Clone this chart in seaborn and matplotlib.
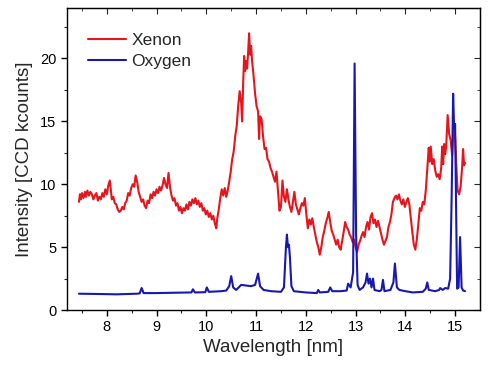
import pandas as pd
import seaborn as sns
import matplotlib.pyplot as plt

# Xenon spectrum (wavelength nm, kcounts)
xenon_x = [7.44, 7.46, 7.48, 7.50, 7.53, 7.56, 7.58, 7.61, 7.64, 7.67, 7.70, 7.73, 7.76, 7.79, 7.82,
           7.85, 7.88, 7.91, 7.94, 7.97, 8.00, 8.03, 8.06, 8.08, 8.10, 8.13, 8.16, 8.19, 8.22, 8.25,
           8.28, 8.31, 8.34, 8.37, 8.40, 8.43, 8.46, 8.49, 8.52, 8.55, 8.58, 8.61, 8.64, 8.67, 8.70,
           8.73, 8.76, 8.79, 8.82, 8.85, 8.88, 8.91, 8.94, 8.97, 9.00, 9.03, 9.06, 9.09, 9.12, 9.15,
           9.18, 9.21, 9.24, 9.27, 9.30, 9.33, 9.36, 9.39, 9.42, 9.45, 9.48, 9.51, 9.54, 9.57, 9.60,
           9.63, 9.66, 9.69, 9.72, 9.75, 9.78, 9.81, 9.84, 9.87, 9.90, 9.93, 9.96, 9.99, 10.02, 10.05,
           10.08, 10.11, 10.14, 10.17, 10.20, 10.22, 10.25, 10.28, 10.31, 10.34, 10.37, 10.40, 10.43,
           10.46, 10.49, 10.52, 10.55, 10.58, 10.61, 10.64, 10.67, 10.70, 10.72, 10.74, 10.76, 10.78,
           10.80, 10.82, 10.84, 10.86, 10.88, 10.90, 10.92, 10.95, 10.98, 11.01, 11.04, 11.06, 11.08,
           11.11, 11.14, 11.17, 11.20, 11.23, 11.26, 11.29, 11.32, 11.35, 11.38, 11.41, 11.44, 11.47,
           11.50, 11.53, 11.56, 11.59, 11.62, 11.65, 11.68, 11.71, 11.74, 11.77, 11.80, 11.83, 11.86,
           11.89, 11.92, 11.95, 11.98, 12.01, 12.04, 12.07, 12.10, 12.13, 12.16, 12.19, 12.22, 12.25,
           12.28, 12.31, 12.34, 12.37, 12.40, 12.43, 12.46, 12.49, 12.52, 12.55, 12.58, 12.61, 12.64,
           12.67, 12.70, 12.73, 12.76, 12.79, 12.82, 12.85, 12.88, 12.91, 12.94, 12.97, 13.00, 13.03,
           13.06, 13.09, 13.12, 13.15, 13.18, 13.21, 13.24, 13.27, 13.30, 13.33, 13.36, 13.39, 13.42,
           13.45, 13.48, 13.51, 13.54, 13.57, 13.60, 13.63, 13.66, 13.69, 13.72, 13.75, 13.78, 13.81,
           13.84, 13.87, 13.90, 13.93, 13.96, 13.99, 14.02, 14.05, 14.08, 14.11, 14.14, 14.17, 14.20,
           14.23, 14.26, 14.29, 14.32, 14.35, 14.38, 14.41, 14.44, 14.47, 14.49, 14.51, 14.54, 14.57,
           14.60, 14.63, 14.66, 14.69, 14.72, 14.74, 14.76, 14.78, 14.80, 14.82, 14.85, 14.88, 14.91,
           14.94, 14.97, 15.00, 15.03, 15.05, 15.08, 15.11, 15.14, 15.16, 15.18, 15.20]
xenon_y = [8.6, 9.2, 8.8, 9.3, 8.9, 9.4, 9.0, 9.5, 9.1, 9.4, 9.2, 8.8, 9.1, 9.3, 8.7,
           9.0, 8.8, 9.3, 9.0, 9.6, 9.2, 9.9, 10.3, 9.6, 8.8, 9.0, 8.5, 8.4, 8.0, 7.8,
           7.9, 8.2, 8.0, 8.5, 8.7, 9.3, 9.1, 9.7, 10.0, 9.8, 10.7, 10.2, 9.4, 9.0, 8.6,
           8.8, 8.3, 8.1, 8.7, 8.5, 9.2, 8.9, 9.4, 9.1, 9.6, 9.3, 9.8, 9.5, 9.9, 10.5,
           10.0, 9.7, 10.9, 9.8, 9.1, 8.7, 8.9, 8.3, 8.5, 7.9, 8.2, 7.7, 8.1, 7.9, 8.4,
           8.0, 8.6, 8.3, 8.8, 8.5, 8.9, 8.4, 8.7, 8.2, 8.5, 7.9, 8.1, 7.6, 7.9, 7.4,
           7.7, 7.2, 7.5, 6.9, 6.5, 7.3, 8.0, 8.9, 9.6, 9.1, 9.7, 9.0, 9.5,
           10.2, 11.0, 12.0, 12.6, 13.8, 14.6, 16.2, 17.4, 16.5, 15.0, 18.0, 20.2, 19.0,
           19.8, 19.2, 20.5, 22.0, 20.3, 21.0, 19.8, 18.6, 17.2, 16.2, 15.8, 13.6, 15.4,
           15.2, 13.8, 12.8, 12.9, 12.0, 11.8, 11.3, 11.0, 10.6, 10.2, 11.0, 9.4, 7.9,
           8.2, 10.3, 9.0, 8.6, 9.6, 8.8, 8.2, 7.8, 8.6, 9.4, 8.4, 8.0, 7.6,
           8.1, 8.5, 8.3, 8.9, 7.6, 6.5, 7.2, 6.8, 7.3, 6.6, 6.0, 5.4, 5.0,
           4.4, 5.0, 5.8, 6.3, 6.9, 7.3, 7.8, 7.0, 6.3, 6.0, 5.6, 5.2, 5.6,
           5.0, 4.8, 5.5, 6.2, 7.0, 6.6, 6.4, 6.0, 5.8, 5.4, 5.6, 5.0, 4.6,
           5.2, 5.5, 5.9, 6.2, 5.8, 6.6, 7.0, 6.4, 7.4, 7.7, 6.9, 7.2, 6.6,
           7.1, 6.6, 6.1, 5.6, 5.2, 5.5, 5.8, 6.6, 7.0, 7.6, 8.6, 8.9, 9.1,
           8.8, 9.2, 8.7, 8.4, 8.8, 8.2, 8.6, 8.9, 8.4, 7.3, 6.2, 5.2, 4.8,
           5.6, 6.8, 8.1, 7.9, 8.6, 8.4, 9.5, 11.2, 12.9, 11.8, 13.0, 11.6, 12.0,
           11.1, 10.6, 10.8, 10.4, 11.3, 13.0, 11.6, 13.2, 12.4, 13.0, 15.5, 14.0, 13.5,
           12.3, 14.6, 13.8, 11.0, 9.5, 9.2, 9.8, 11.3, 12.8, 11.5, 11.7]

# Oxygen spectrum
oxygen_x = [7.44, 7.80, 8.20, 8.60, 8.66, 8.70, 8.74, 9.00, 9.40, 9.70, 9.73, 9.77, 9.98, 10.01,
            10.05, 10.30, 10.40, 10.46, 10.50, 10.54, 10.60, 10.65, 10.70, 10.80, 10.90, 10.98,
            11.04, 11.08, 11.15, 11.30, 11.50, 11.56, 11.60, 11.62, 11.64, 11.66, 11.68, 11.71,
            11.76, 12.00, 12.22, 12.25, 12.28, 12.45, 12.49, 12.53, 12.70, 12.82, 12.85, 12.90,
            12.95, 12.98, 13.01, 13.04, 13.08, 13.15, 13.20, 13.23, 13.26, 13.29, 13.32, 13.35,
            13.38, 13.48, 13.52, 13.55, 13.58, 13.70, 13.76, 13.79, 13.83, 13.88, 14.00, 14.15,
            14.35, 14.41, 14.44, 14.47, 14.60, 14.68, 14.70, 14.75, 14.80, 14.86, 14.90, 14.93,
            14.96, 14.98, 15.00, 15.02, 15.04, 15.07, 15.10, 15.13, 15.16, 15.20]
oxygen_y = [1.30, 1.28, 1.25, 1.30, 1.32, 1.75, 1.35, 1.35, 1.38, 1.40, 1.65, 1.40, 1.42, 1.80,
            1.45, 1.50, 1.55, 1.90, 2.70, 1.80, 1.60, 1.80, 2.00, 1.95, 1.90, 2.00,
            2.90, 1.90, 1.60, 1.50, 1.45, 1.80, 5.00, 6.00, 5.00, 5.20, 4.20, 1.90,
            1.50, 1.40, 1.35, 1.60, 1.40, 1.45, 1.80, 1.50, 1.50, 1.55, 2.10, 1.80,
            3.00, 19.6, 6.00, 2.00, 1.60, 1.80, 2.20, 2.90, 2.10, 2.50, 1.80, 2.50,
            1.60, 1.50, 1.60, 2.40, 1.50, 1.60, 2.20, 3.70, 1.80, 1.60, 1.50, 1.40,
            1.45, 1.70, 2.20, 1.60, 1.50, 1.60, 1.75, 1.60, 1.75, 1.70, 2.50, 9.00,
            17.2, 14.5, 14.8, 8.00, 1.70, 1.80, 5.80, 1.80, 1.55, 1.50]

df = pd.concat([
    pd.DataFrame({'wl': xenon_x, 'counts': xenon_y, 'gas': 'Xenon'}),
    pd.DataFrame({'wl': oxygen_x, 'counts': oxygen_y, 'gas': 'Oxygen'}),
])

sns.set_style('ticks')
plt.rcParams['font.family'] = ['Liberation Sans', 'DejaVu Sans']

fig = plt.figure(figsize=(5, 3.7), dpi=100)
ax = fig.add_axes([0.134, 0.162, 0.826, 0.816])

sns.lineplot(data=df, x='wl', y='counts', hue='gas', estimator=None, sort=False,
             palette={'Xenon': '#e8141c', 'Oxygen': '#1818b0'}, linewidth=1.5, ax=ax)

ax.set_xlim(7.2, 15.5)
ax.set_ylim(0, 24)
ax.set_xticks(range(8, 16))
ax.set_xticks([7.5 + i for i in range(8)], minor=True)
ax.set_yticks([0, 5, 10, 15, 20])
ax.set_yticks([2.5, 7.5, 12.5, 17.5, 22.5], minor=True)
ax.tick_params(which='major', direction='out', length=4, width=1, labelsize=10.5, colors='black')
ax.tick_params(which='minor', direction='out', length=2.5, width=0.8)
for s in ax.spines.values():
    s.set_linewidth(1)
    s.set_color('black')

# mirrored inward ticks on top / right
top = ax.secondary_xaxis('top')
top.set_xticks(range(8, 16))
top.set_xticks([7.5 + i for i in range(8)], minor=True)
top.tick_params(which='both', direction='in', labeltop=False)
top.tick_params(which='major', length=4)
top.tick_params(which='minor', length=2.5)
right = ax.secondary_yaxis('right')
right.set_yticks([0, 5, 10, 15, 20])
right.set_yticks([2.5, 7.5, 12.5, 17.5, 22.5], minor=True)
right.tick_params(which='both', direction='in', labelright=False)
right.tick_params(which='major', length=4)
right.tick_params(which='minor', length=2.5)

ax.set_xlabel('Wavelength [nm]', fontsize=13.5, labelpad=3)
ax.set_ylabel('Intensity [CCD kcounts]', fontsize=13.5, labelpad=5)

handles, labels = ax.get_legend_handles_labels()
ax.legend(handles, labels, loc='upper left', frameon=False, fontsize=12.5,
          handlelength=2.2, handletextpad=0.3, labelspacing=0.3,
          bbox_to_anchor=(0.034, 0.94), borderaxespad=0)

plt.savefig('out.png', dpi=100)
